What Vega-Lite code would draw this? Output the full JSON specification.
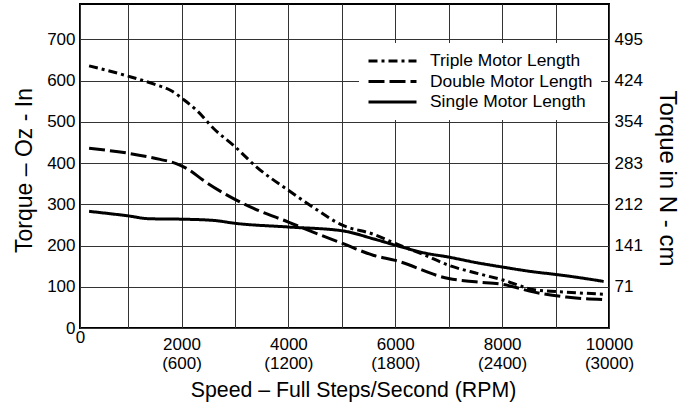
{
  "$schema": "https://vega.github.io/schema/vega-lite/v6.json",
  "width": 529,
  "height": 324,
  "autosize": {"type": "none"},
  "padding": {"left": 80, "top": 4, "right": 72, "bottom": 80},
  "background": "white",
  "config": {
    "font": "Liberation Sans",
    "view": {"stroke": "black", "strokeWidth": 2},
    "axis": {
      "labelFont": "Liberation Sans",
      "titleFont": "Liberation Sans",
      "labelColor": "black",
      "titleColor": "black",
      "labelFontSize": 17,
      "titleFontWeight": "normal",
      "domain": false,
      "ticks": false,
      "gridColor": "#333333",
      "gridOpacity": 1,
      "gridWidth": 1
    },
    "legend": {"labelFont": "Liberation Sans"}
  },
  "data": {
    "values": [
      {"motor": "Triple Motor Length", "speed": 270, "torque": 636},
      {"motor": "Triple Motor Length", "speed": 1000, "torque": 611},
      {"motor": "Triple Motor Length", "speed": 1500, "torque": 591},
      {"motor": "Triple Motor Length", "speed": 1800, "torque": 576},
      {"motor": "Triple Motor Length", "speed": 2050, "torque": 553},
      {"motor": "Triple Motor Length", "speed": 2300, "torque": 526},
      {"motor": "Triple Motor Length", "speed": 2600, "torque": 484},
      {"motor": "Triple Motor Length", "speed": 3000, "torque": 440},
      {"motor": "Triple Motor Length", "speed": 3400, "torque": 391},
      {"motor": "Triple Motor Length", "speed": 4000, "torque": 334},
      {"motor": "Triple Motor Length", "speed": 4450, "torque": 294},
      {"motor": "Triple Motor Length", "speed": 5000, "torque": 250},
      {"motor": "Triple Motor Length", "speed": 5600, "torque": 227},
      {"motor": "Triple Motor Length", "speed": 6000, "torque": 205},
      {"motor": "Triple Motor Length", "speed": 6550, "torque": 177},
      {"motor": "Triple Motor Length", "speed": 7000, "torque": 152},
      {"motor": "Triple Motor Length", "speed": 7550, "torque": 132},
      {"motor": "Triple Motor Length", "speed": 8000, "torque": 117},
      {"motor": "Triple Motor Length", "speed": 8600, "torque": 93},
      {"motor": "Triple Motor Length", "speed": 9200, "torque": 87},
      {"motor": "Triple Motor Length", "speed": 9900, "torque": 82},
      {"motor": "Double Motor Length", "speed": 270, "torque": 436},
      {"motor": "Double Motor Length", "speed": 1000, "torque": 424},
      {"motor": "Double Motor Length", "speed": 1600, "torque": 409},
      {"motor": "Double Motor Length", "speed": 1900, "torque": 399},
      {"motor": "Double Motor Length", "speed": 2150, "torque": 383},
      {"motor": "Double Motor Length", "speed": 2400, "torque": 359},
      {"motor": "Double Motor Length", "speed": 3000, "torque": 312},
      {"motor": "Double Motor Length", "speed": 3350, "torque": 290},
      {"motor": "Double Motor Length", "speed": 4000, "torque": 257},
      {"motor": "Double Motor Length", "speed": 4450, "torque": 233},
      {"motor": "Double Motor Length", "speed": 5000, "torque": 206},
      {"motor": "Double Motor Length", "speed": 5600, "torque": 176},
      {"motor": "Double Motor Length", "speed": 6000, "torque": 164},
      {"motor": "Double Motor Length", "speed": 7000, "torque": 120},
      {"motor": "Double Motor Length", "speed": 7500, "torque": 112},
      {"motor": "Double Motor Length", "speed": 8000, "torque": 106},
      {"motor": "Double Motor Length", "speed": 8600, "torque": 87},
      {"motor": "Double Motor Length", "speed": 9200, "torque": 75},
      {"motor": "Double Motor Length", "speed": 9900, "torque": 69},
      {"motor": "Single Motor Length", "speed": 270, "torque": 283},
      {"motor": "Single Motor Length", "speed": 1000, "torque": 272},
      {"motor": "Single Motor Length", "speed": 1400, "torque": 265},
      {"motor": "Single Motor Length", "speed": 2000, "torque": 264},
      {"motor": "Single Motor Length", "speed": 2600, "torque": 261},
      {"motor": "Single Motor Length", "speed": 3000, "torque": 254},
      {"motor": "Single Motor Length", "speed": 4000, "torque": 245},
      {"motor": "Single Motor Length", "speed": 5000, "torque": 236},
      {"motor": "Single Motor Length", "speed": 5600, "torque": 216},
      {"motor": "Single Motor Length", "speed": 6000, "torque": 201},
      {"motor": "Single Motor Length", "speed": 6550, "torque": 182},
      {"motor": "Single Motor Length", "speed": 7000, "torque": 172},
      {"motor": "Single Motor Length", "speed": 7500, "torque": 159},
      {"motor": "Single Motor Length", "speed": 8000, "torque": 148},
      {"motor": "Single Motor Length", "speed": 8600, "torque": 136},
      {"motor": "Single Motor Length", "speed": 9000, "torque": 130},
      {"motor": "Single Motor Length", "speed": 9400, "torque": 123},
      {"motor": "Single Motor Length", "speed": 9900, "torque": 113}
    ]
  },
  "layer": [
    {
      "mark": {"type": "line", "interpolate": "monotone", "strokeWidth": 3, "color": "black"},
      "encoding": {
        "x": {
          "field": "speed",
          "type": "quantitative",
          "scale": {"domain": [100, 10000], "nice": false, "zero": false},
          "axis": {
            "values": [100, 1000, 2000, 3000, 4000, 5000, 6000, 7000, 8000, 9000, 10000],
            "title": "Speed – Full Steps/Second (RPM)",
            "titleFontSize": 21.3,
            "titlePadding": 8,
            "titleX": 273,
            "labelExpr": "datum.value == 100 ? '0' : (datum.value % 2000 == 0 ? [format(datum.value, 'd'), '(' + format(datum.value * 0.3, 'd') + ')'] : '')",
            "labelLineHeight": 19,
            "labelPadding": {"condition": {"test": "datum.value == 100", "value": 1}, "value": 8},
            "labelFlush": false,
            "labelOverlap": false,
            "grid": true
          }
        },
        "y": {
          "field": "torque",
          "type": "quantitative",
          "scale": {"domain": [0, 786], "nice": false},
          "axis": {
            "values": [0, 100, 200, 300, 400, 500, 600, 700],
            "title": "Torque – Oz - In",
            "titleFontSize": 23,
            "titlePadding": 10,
            "titleY": 166,
            "labelPadding": 5,
            "grid": true
          }
        },
        "strokeDash": {
          "field": "motor",
          "type": "nominal",
          "scale": {
            "domain": ["Triple Motor Length", "Double Motor Length", "Single Motor Length"],
            "range": [[9, 4, 3, 4], [16, 5], [1, 0]]
          },
          "legend": {
            "title": null,
            "orient": "none",
            "legendX": 279,
            "legendY": 39,
            "fillColor": "white",
            "padding": 8,
            "symbolType": "stroke",
            "symbolSize": 2304,
            "symbolStrokeWidth": 3,
            "symbolStrokeColor": "black",
            "clipHeight": 20,
            "labelFontSize": 17.4,
            "labelColor": "black",
            "labelOffset": 12,
            "rowPadding": 0.5,
            "labelLimit": 300
          }
        }
      }
    },
    {
      "mark": {"type": "line", "opacity": 0},
      "encoding": {
        "x": {"field": "speed", "type": "quantitative"},
        "y": {
          "field": "torque",
          "type": "quantitative",
          "scale": {"domain": [0, 786], "nice": false},
          "axis": {
            "orient": "right",
            "values": [100, 200, 300, 400, 500, 600, 700],
            "labelExpr": "format(round(datum.value * 0.7072), 'd')",
            "title": "Torque in N - cm",
            "titleFontSize": 24,
            "titlePadding": 12,
            "titleY": 174,
            "labelPadding": 5,
            "grid": false
          }
        },
        "detail": {"field": "motor", "type": "nominal"}
      }
    }
  ],
  "resolve": {"scale": {"y": "independent"}}
}
